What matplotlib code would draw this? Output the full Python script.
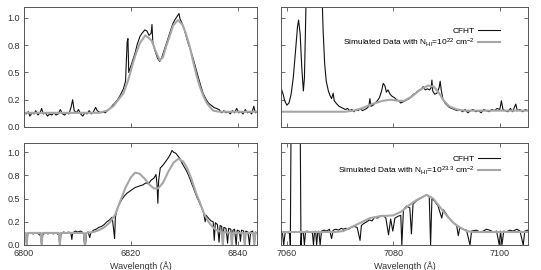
import matplotlib
matplotlib.use("Agg")
from matplotlib import pyplot as plt
import matplotlib.ticker as tkr

plt.rcParams['font.family'] = ['Liberation Sans', 'DejaVu Sans']
plt.rcParams['mathtext.default'] = 'regular'

# top left: CFHT spectrum and simulated profile (N_HI = 1e22)
wl_a = [6800.0, 6800.4, 6800.8, 6801.1, 6801.5, 6801.9, 6802.2, 6802.6, 6803.0, 6803.3,
        6803.6, 6804.0, 6804.4, 6804.8, 6805.2, 6805.6, 6806.0, 6806.4, 6806.8, 6807.2,
        6807.6, 6808.0, 6808.4, 6808.8, 6809.1, 6809.4, 6809.8, 6810.2, 6810.6, 6811.0,
        6811.4, 6811.8, 6812.2, 6812.6, 6813.0, 6813.4, 6813.7, 6814.0, 6814.4, 6814.8,
        6815.2, 6815.6, 6816.1, 6816.6, 6817.0, 6817.5, 6818.0, 6818.6, 6819.0, 6819.3,
        6819.45, 6819.6, 6820.0, 6820.4, 6820.8, 6821.2, 6821.7, 6822.1, 6822.6, 6823.0,
        6823.4, 6823.8, 6823.95, 6824.1, 6824.5, 6825.0, 6825.4, 6825.8, 6826.2, 6826.6,
        6827.0, 6827.4, 6827.8, 6828.2, 6828.6, 6829.0, 6829.2, 6829.5, 6829.9, 6830.3,
        6830.7, 6831.2, 6831.7, 6832.2, 6832.6, 6833.0, 6833.5, 6834.0, 6834.5, 6835.0,
        6835.5, 6836.0, 6836.5, 6837.0, 6837.4, 6837.8, 6838.2, 6838.6, 6839.0, 6839.4,
        6839.8, 6840.2, 6840.6, 6841.0, 6841.4, 6841.8, 6842.2, 6842.6, 6843.0, 6843.3,
        6843.6]
flux_a = [0.13, 0.12, 0.14, 0.10, 0.13, 0.12, 0.15, 0.11, 0.13, 0.17,
          0.12, 0.13, 0.10, 0.12, 0.11, 0.13, 0.11, 0.12, 0.16, 0.12,
          0.11, 0.13, 0.12, 0.18, 0.25, 0.15, 0.13, 0.16, 0.12, 0.10,
          0.13, 0.12, 0.15, 0.12, 0.14, 0.18, 0.15, 0.14, 0.13, 0.14,
          0.13, 0.15, 0.17, 0.20, 0.22, 0.25, 0.29, 0.35, 0.42, 0.78,
          0.81, 0.50, 0.56, 0.62, 0.68, 0.76, 0.83, 0.86, 0.89, 0.88,
          0.84, 0.86, 0.94, 0.78, 0.70, 0.63, 0.60, 0.64, 0.70, 0.76,
          0.82, 0.88, 0.94, 0.98, 1.01, 1.04, 0.99, 0.96, 0.91, 0.84,
          0.77, 0.70, 0.62, 0.53, 0.46, 0.39, 0.31, 0.26, 0.22, 0.20,
          0.18, 0.17, 0.16, 0.13, 0.15, 0.13, 0.14, 0.12, 0.15, 0.13,
          0.17, 0.13, 0.14, 0.12, 0.16, 0.13, 0.14, 0.12, 0.19, 0.13,
          0.14]
sim_wl_a = [6800.0, 6814.0, 6815.5, 6816.7, 6818.6, 6819.5, 6820.4, 6821.0, 6821.7, 6822.7,
            6823.5, 6823.9, 6824.6, 6825.4, 6826.0, 6826.6, 6827.3, 6827.9, 6828.8, 6829.6,
            6830.2, 6831.0, 6831.7, 6832.3, 6832.9, 6833.6, 6834.2, 6835.0, 6835.4, 6836.5,
            6843.6]
sim_a = [0.13, 0.13, 0.15, 0.19, 0.31, 0.43, 0.59, 0.68, 0.77, 0.84,
         0.81, 0.79, 0.70, 0.61, 0.64, 0.74, 0.84, 0.93, 0.98, 0.94,
         0.87, 0.74, 0.59, 0.47, 0.37, 0.28, 0.22, 0.17, 0.15, 0.14,
         0.14]

# bottom left
wl_c = [6800.0, 6800.3, 6800.5, 6800.7, 6801.2, 6801.7, 6802.2, 6802.7, 6803.1, 6803.3,
        6803.5, 6804.0, 6804.5, 6805.0, 6805.5, 6806.0, 6806.5, 6806.7, 6806.9, 6807.4,
        6807.9, 6808.4, 6808.8, 6808.95, 6809.1, 6809.6, 6810.1, 6810.6, 6811.1, 6811.35,
        6811.5, 6811.7, 6812.0, 6812.3, 6812.5, 6813.0, 6813.5, 6814.0, 6814.5, 6815.0,
        6815.5, 6816.0, 6816.5, 6816.8, 6816.95, 6817.1, 6817.4, 6817.8, 6818.3, 6818.8,
        6819.3, 6819.8, 6820.3, 6820.8, 6821.3, 6821.8, 6822.3, 6822.8, 6823.3, 6823.8,
        6824.3, 6824.7, 6824.9, 6825.05, 6825.2, 6825.5, 6826.0, 6826.5, 6827.0, 6827.4,
        6827.7, 6828.0, 6828.4, 6828.8, 6829.2, 6829.6, 6830.0, 6830.4, 6830.8, 6831.2,
        6831.6, 6832.0, 6832.4, 6832.8, 6833.2, 6833.6, 6833.9, 6834.1, 6834.5, 6835.0,
        6835.4, 6835.6, 6835.8, 6836.2, 6836.5, 6836.7, 6837.0, 6837.2, 6837.4, 6837.8,
        6838.1, 6838.3, 6838.7, 6838.9, 6839.1, 6839.4, 6839.7, 6839.9, 6840.3, 6840.5,
        6840.7, 6841.1, 6841.3, 6841.5, 6841.9, 6842.2, 6842.4, 6842.8, 6843.1, 6843.3,
        6843.6]
flux_c = [0.13, 0.12, 0.00, 0.12, 0.13, 0.12, 0.13, 0.12, 0.10, 0.00,
          0.11, 0.13, 0.12, 0.13, 0.12, 0.13, 0.11, 0.00, 0.11, 0.14,
          0.13, 0.14, 0.12, 0.06, 0.13, 0.15, 0.14, 0.15, 0.13, 0.00,
          0.00, 0.13, 0.14, 0.08, 0.13, 0.16, 0.17, 0.19, 0.20, 0.22,
          0.25, 0.27, 0.30, 0.15, 0.07, 0.30, 0.38, 0.44, 0.49, 0.53,
          0.56, 0.58, 0.60, 0.62, 0.63, 0.64, 0.65, 0.67, 0.66, 0.70,
          0.72, 0.76, 0.65, 0.45, 0.70, 0.83, 0.86, 0.90, 0.94, 0.98,
          1.02, 1.00, 0.99, 0.96, 0.93, 0.88, 0.84, 0.80, 0.75, 0.69,
          0.63, 0.57, 0.51, 0.46, 0.41, 0.35, 0.25, 0.32, 0.29, 0.26,
          0.25, 0.05, 0.24, 0.22, 0.03, 0.21, 0.20, 0.00, 0.19, 0.18,
          0.02, 0.18, 0.17, 0.00, 0.16, 0.17, 0.00, 0.16, 0.15, 0.04,
          0.16, 0.15, 0.00, 0.15, 0.14, 0.00, 0.14, 0.15, 0.02, 0.14,
          0.13]
sim_wl_c = [6800.0, 6800.3, 6800.5, 6800.7, 6803.1, 6803.3, 6803.5, 6806.5, 6806.7, 6806.9,
            6811.2, 6811.4, 6811.6, 6813.0, 6814.0, 6815.0, 6816.0, 6817.0, 6818.0, 6819.0,
            6820.0, 6820.8, 6821.6, 6822.5, 6823.5, 6824.3, 6825.1, 6826.0, 6827.0, 6828.0,
            6828.9, 6829.8, 6830.6, 6831.4, 6832.2, 6832.9, 6833.6, 6834.4, 6835.2, 6836.0,
            6837.0, 6837.2, 6837.4, 6838.7, 6838.9, 6839.1, 6841.1, 6841.3, 6841.5, 6842.9,
            6843.1, 6843.3, 6843.6]
sim_c = [0.13, 0.13, 0.00, 0.13, 0.13, 0.00, 0.13, 0.13, 0.00, 0.13,
         0.13, 0.00, 0.13, 0.14, 0.16, 0.19, 0.24, 0.32, 0.47, 0.62,
         0.73, 0.78, 0.77, 0.72, 0.65, 0.61, 0.61, 0.67, 0.79, 0.89,
         0.93, 0.90, 0.82, 0.70, 0.56, 0.46, 0.35, 0.26, 0.20, 0.16,
         0.14, 0.00, 0.14, 0.13, 0.00, 0.13, 0.13, 0.00, 0.13, 0.13,
         0.00, 0.13, 0.13]

# top right
wl_b = [7058.9, 7059.3, 7059.6, 7060.0, 7060.4, 7060.8, 7061.2, 7061.6, 7062.0, 7062.2,
        7062.5, 7062.8, 7063.1, 7063.3, 7063.5, 7063.7, 7066.5, 7066.8, 7067.1, 7067.4,
        7067.8, 7068.1, 7068.4, 7068.7, 7068.9, 7069.4, 7069.8, 7070.2, 7070.6, 7071.0,
        7071.4, 7071.8, 7072.2, 7072.6, 7073.0, 7073.4, 7073.8, 7074.2, 7074.6, 7075.0,
        7075.4, 7075.6, 7075.8, 7076.2, 7076.6, 7077.0, 7077.4, 7077.8, 7078.1, 7078.4,
        7078.7, 7079.0, 7079.4, 7079.8, 7080.2, 7080.6, 7081.0, 7081.4, 7081.8, 7082.2,
        7082.6, 7083.0, 7083.4, 7083.8, 7084.2, 7084.6, 7085.0, 7085.3, 7085.6, 7086.0,
        7086.4, 7086.8, 7087.1, 7087.25, 7087.4, 7087.8, 7088.2, 7088.6, 7088.8, 7089.0,
        7089.3, 7089.7, 7090.1, 7090.5, 7091.0, 7091.5, 7092.0, 7092.5, 7093.0, 7093.5,
        7094.0, 7094.5, 7095.0, 7095.5, 7096.0, 7096.5, 7097.0, 7097.5, 7098.0, 7098.5,
        7099.0, 7099.5, 7100.0, 7100.3, 7100.6, 7101.0, 7101.5, 7102.0, 7102.4, 7103.0,
        7103.3, 7103.8, 7104.3, 7104.8, 7105.3]
flux_b = [0.36, 0.30, 0.24, 0.20, 0.22, 0.30, 0.45, 0.68, 0.92, 0.98,
          0.85, 0.55, 0.33, 0.45, 0.90, 1.40, 1.40, 0.90, 0.58, 0.42,
          0.33, 0.29, 0.26, 0.31, 0.24, 0.21, 0.19, 0.18, 0.17, 0.16,
          0.17, 0.15, 0.16, 0.14, 0.16, 0.15, 0.17, 0.15, 0.16, 0.17,
          0.19, 0.26, 0.19, 0.20, 0.22, 0.24, 0.27, 0.33, 0.40, 0.38,
          0.32, 0.34, 0.30, 0.28, 0.27, 0.25, 0.24, 0.22, 0.23, 0.24,
          0.25, 0.26, 0.28, 0.30, 0.31, 0.33, 0.34, 0.35, 0.37, 0.34,
          0.35, 0.34, 0.36, 0.43, 0.33, 0.30, 0.31, 0.36, 0.42, 0.34,
          0.26, 0.22, 0.20, 0.18, 0.17, 0.16, 0.15, 0.16, 0.14, 0.16,
          0.13, 0.15, 0.16, 0.14, 0.15, 0.13, 0.16, 0.15, 0.14, 0.16,
          0.15, 0.17, 0.16, 0.24, 0.16, 0.15, 0.14, 0.17, 0.14, 0.21,
          0.15, 0.16, 0.14, 0.16, 0.15]
sim_wl_b = [7058.9, 7071.0, 7072.5, 7074.0, 7076.0, 7078.0, 7079.5, 7081.0, 7082.0, 7083.5,
            7085.0, 7086.5, 7087.6, 7088.6, 7089.5, 7090.5, 7092.0, 7093.5, 7105.3]
sim_b = [0.14, 0.14, 0.15, 0.17, 0.21, 0.24, 0.25, 0.24, 0.24, 0.28,
         0.34, 0.38, 0.37, 0.31, 0.24, 0.19, 0.16, 0.15, 0.15]

# bottom right
wl_d = [7058.9, 7059.2, 7059.4, 7059.7, 7060.3, 7060.5, 7060.65, 7060.8, 7062.5, 7062.65,
        7062.8, 7063.1, 7063.3, 7063.5, 7063.7, 7064.3, 7064.8, 7065.0, 7065.2, 7065.4,
        7065.6, 7065.8, 7066.0, 7066.25, 7066.5, 7067.0, 7067.5, 7068.0, 7068.4, 7068.7,
        7069.2, 7069.7, 7070.2, 7070.6, 7071.1, 7071.6, 7072.1, 7072.6, 7073.2, 7073.75,
        7074.0, 7074.4, 7075.0, 7075.5, 7076.0, 7076.5, 7077.0, 7077.5, 7078.1, 7078.6,
        7079.1, 7079.5, 7079.9, 7080.3, 7080.9, 7081.4, 7081.6, 7081.9, 7082.5, 7083.1,
        7083.4, 7083.7, 7084.4, 7085.0, 7085.6, 7086.25, 7086.75, 7087.0, 7087.25, 7087.8,
        7088.4, 7089.1, 7089.4, 7090.0, 7090.6, 7091.25, 7091.9, 7092.2, 7092.5, 7093.1,
        7093.75, 7094.4, 7094.7, 7095.6, 7096.3, 7096.9, 7097.5, 7098.1, 7098.8, 7099.4,
        7099.9, 7100.15, 7100.4, 7100.75, 7101.2, 7101.9, 7102.5, 7103.2, 7103.8, 7104.4,
        7104.7, 7105.3]
flux_d = [0.14, 0.12, 0.00, 0.14, 0.13, 0.14, 0.00, 1.40, 1.40, 0.00,
          0.14, 0.13, 0.00, 0.14, 0.15, 0.14, 0.13, 0.00, 0.14, 0.15,
          0.00, 0.14, 0.15, 0.00, 0.15, 0.16, 0.15, 0.17, 0.07, 0.16,
          0.17, 0.16, 0.18, 0.17, 0.18, 0.17, 0.19, 0.20, 0.19, 0.05,
          0.21, 0.23, 0.25, 0.27, 0.26, 0.30, 0.29, 0.31, 0.32, 0.29,
          0.11, 0.28, 0.15, 0.29, 0.31, 0.32, 0.00, 0.38, 0.42, 0.40,
          0.12, 0.44, 0.48, 0.50, 0.52, 0.54, 0.52, 0.00, 0.50, 0.47,
          0.42, 0.29, 0.38, 0.33, 0.28, 0.24, 0.21, 0.10, 0.19, 0.17,
          0.16, 0.00, 0.15, 0.16, 0.14, 0.15, 0.17, 0.16, 0.14, 0.15,
          0.00, 0.15, 0.00, 0.15, 0.14, 0.16, 0.15, 0.17, 0.15, 0.00,
          0.15, 0.16]
sim_wl_d = [7058.9, 7069.0, 7070.6, 7072.0, 7073.5, 7075.6, 7077.5, 7080.0, 7081.5, 7083.0,
            7084.5, 7086.25, 7087.5, 7088.75, 7090.0, 7091.25, 7092.5, 7093.8, 7095.0, 7105.3]
sim_d = [0.14, 0.14, 0.15, 0.19, 0.23, 0.29, 0.31, 0.32, 0.36, 0.43,
         0.49, 0.54, 0.50, 0.41, 0.32, 0.24, 0.19, 0.15, 0.14, 0.14]

y_ticks = [0.0, 0.25, 0.5, 0.75, 1.0]
left_ticks = [6800, 6820, 6840]
right_ticks = [7060, 7080, 7100]
labels = ["CFHT", "Simulated Data with N$_{HI}$=10$^{22}$ cm$^{-2}$",
          "Simulated Data with N$_{HI}$=10$^{23.3}$ cm$^{-2}$"]

W, H = 541, 270
fig = plt.figure(figsize=(W / 100, H / 100), dpi=100)


def make_axes(x0, y0, x1, y1):
    ax = fig.add_axes([x0 / W, 1 - y1 / H, (x1 - x0) / W, (y1 - y0) / H])
    ax.tick_params(direction='in', top=True, right=True, length=3, width=0.5,
                   labelsize=6.5, colors='#333333', pad=3)
    for s in ax.spines.values():
        s.set_linewidth(0.7)
        s.set_color('#555555')
    ax.set_ylim(0, 1.1)
    ax.set_yticks(y_ticks)
    ax.yaxis.set_major_formatter(tkr.FormatStrFormatter('%.1f'))
    return ax


ax_a = make_axes(24, 7, 257, 127)
ax_b = make_axes(281, 7, 528, 127)
ax_c = make_axes(24, 143, 257, 245)
ax_d = make_axes(281, 143, 528, 245)

black = '#111111'
grey = '#a6a6a6'

ax_a.plot(wl_a, flux_a, color=black, lw=0.8)
ax_a.plot(sim_wl_a, sim_a, color=grey, lw=1.5)
ax_c.plot(wl_c, flux_c, color=black, lw=0.8)
ax_c.plot(sim_wl_c, sim_c, color=grey, lw=1.5)

ax_b.plot(wl_b, flux_b, color=black, lw=0.8, label=labels[0])
ax_b.plot(sim_wl_b, sim_b, color=grey, lw=1.5, label=labels[1])
ax_d.plot(wl_d, flux_d, color=black, lw=0.8, label=labels[0])
ax_d.plot(sim_wl_d, sim_d, color=grey, lw=1.5, label=labels[2])

for ax in (ax_a, ax_c):
    ax.set_xlim(6800, 6843.6)
    ax.set_xticks(left_ticks)
for ax, ytop in ((ax_b, 0.83), (ax_d, 0.88)):
    ax.set_xlim(7058.9, 7105.3)
    ax.set_xticks(right_ticks)
    ax.set_yticklabels([])
    ax.legend(loc='upper right', bbox_to_anchor=(0.885, ytop), markerfirst=False,
              frameon=False, fontsize=6, handlelength=2.6, handletextpad=0.4,
              labelspacing=0.15, borderaxespad=0, borderpad=0)
for ax in (ax_a, ax_b):
    ax.set_xticklabels([])

ax_c.set_xlabel("Wavelength (Å)", fontsize=6.5, color='#333333', labelpad=2)
ax_d.set_xlabel("Wavelength (Å)", fontsize=6.5, color='#333333', labelpad=2)

fig.savefig("out.png", dpi=100)
